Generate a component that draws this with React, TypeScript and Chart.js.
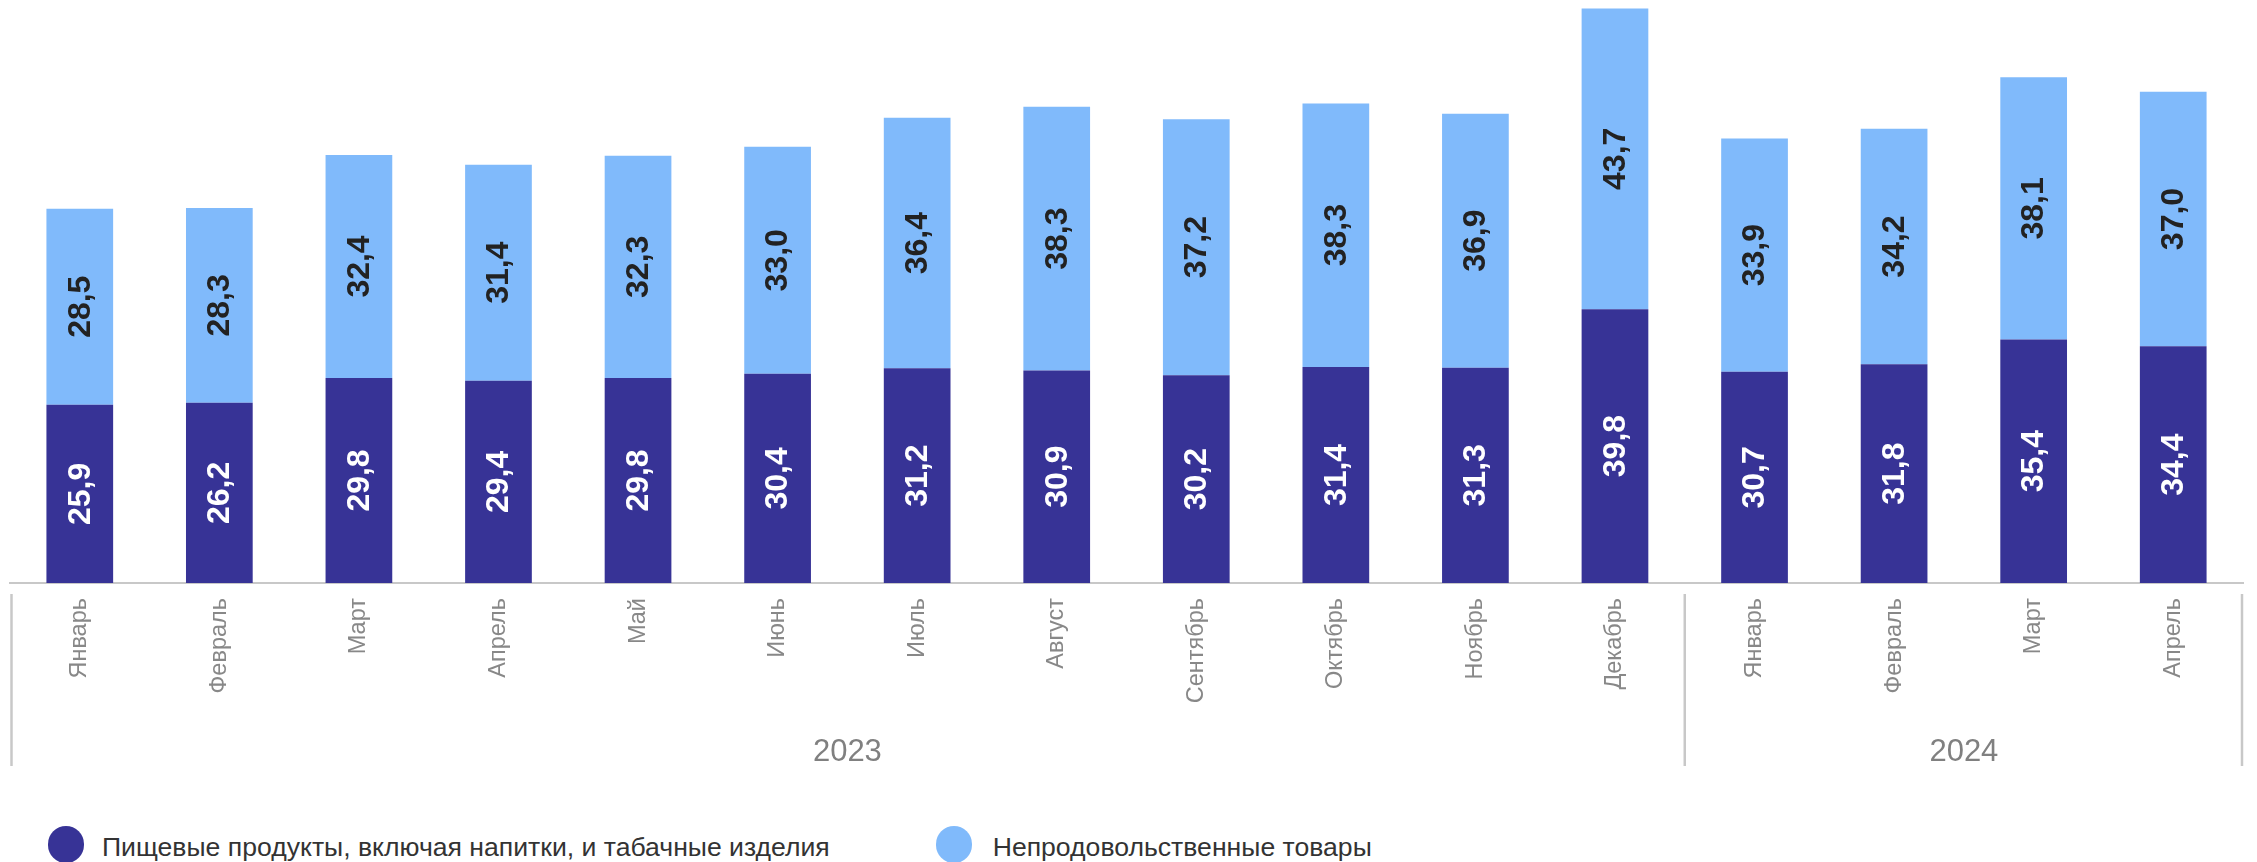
import React, { useEffect, useRef } from 'react';
import { Chart, registerables } from 'chart.js';

Chart.register(...registerables);

const months = [
  'Январь', 'Февраль', 'Март', 'Апрель', 'Май', 'Июнь', 'Июль', 'Август',
  'Сентябрь', 'Октябрь', 'Ноябрь', 'Декабрь', 'Январь', 'Февраль', 'Март', 'Апрель',
];
const years = ['2023', '2024'];
const monthsPerYear = [12, 4];
const foodValues = [25.9, 26.2, 29.8, 29.4, 29.8, 30.4, 31.2, 30.9, 30.2, 31.4, 31.3, 39.8, 30.7, 31.8, 35.4, 34.4];
const nonFoodValues = [28.5, 28.3, 32.4, 31.4, 32.3, 33.0, 36.4, 38.3, 37.2, 38.3, 36.9, 43.7, 33.9, 34.2, 38.1, 37.0];
const seriesNames = ['Пищевые продукты, включая напитки, и табачные изделия', 'Непродовольственные товары'];
const yMax = 84;

const FONT = '"Liberation Sans", Arial, Helvetica, sans-serif';
const DARK = '#373396';
const LIGHT = '#80bafb';
const GRAY_LINE = '#c8c8c8';
const TICK_GRAY = '#888888';

const fmt = (v: number) => v.toFixed(1).replace('.', ',');

const valueLabels = {
  id: 'valueLabels',
  afterDatasetsDraw(chart: any) {
    const ctx = chart.ctx;
    chart.data.datasets.forEach((ds: any, i: number) => {
      const meta = chart.getDatasetMeta(i);
      meta.data.forEach((bar: any, j: number) => {
        const v = ds.data[j];
        const p = bar.getProps(['x', 'y', 'base'], true);
        const cy = (p.y + p.base) / 2;
        ctx.save();
        ctx.translate(p.x + 1, cy);
        ctx.rotate(-Math.PI / 2);
        ctx.font = `bold 32px ${FONT}`;
        ctx.fillStyle = i === 0 ? '#ffffff' : '#222222';
        ctx.textAlign = 'center';
        ctx.textBaseline = 'middle';
        ctx.fillText(fmt(v), 0, 0);
        ctx.restore();
      });
    });
  },
};

const groupAxis = {
  id: 'groupAxis',
  afterDraw(chart: any) {
    const xs = chart.scales.x;
    const ctx = chart.ctx;
    const half = (xs.getPixelForValue(1) - xs.getPixelForValue(0)) / 2;
    const top = xs.top + 11;
    const bottom = xs.top + 183;
    let start = 0;
    ctx.save();
    ctx.strokeStyle = GRAY_LINE;
    ctx.lineWidth = 2.5;
    const drawSep = (x: number) => {
      ctx.beginPath();
      ctx.moveTo(x, top);
      ctx.lineTo(x, bottom);
      ctx.stroke();
    };
    years.forEach((yr, k) => {
      const end = start + monthsPerYear[k] - 1;
      const left = xs.getPixelForValue(start) - half;
      const right = xs.getPixelForValue(end) + half;
      if (k === 0) drawSep(left + 1.5);
      drawSep(right - (k === years.length - 1 ? 1 : 0));
      ctx.fillStyle = '#808080';
      ctx.font = `31px ${FONT}`;
      ctx.textAlign = 'center';
      ctx.textBaseline = 'middle';
      ctx.fillText(yr, (left + right) / 2, xs.top + 169);
      start = end + 1;
    });
    ctx.restore();
  },
};

export default function App() {
  const canvasRef = useRef<HTMLCanvasElement | null>(null);

  useEffect(() => {
    if (!canvasRef.current) return;
    const chart = new Chart(canvasRef.current, {
      type: 'bar',
      data: {
        labels: months,
        datasets: [
          {
            label: seriesNames[0],
            data: foodValues,
            backgroundColor: DARK,
            categoryPercentage: 1,
            barPercentage: 0.478,
          },
          {
            label: seriesNames[1],
            data: nonFoodValues,
            backgroundColor: LIGHT,
            categoryPercentage: 1,
            barPercentage: 0.478,
          },
        ],
      },
      options: {
        animation: false,
        responsive: true,
        maintainAspectRatio: false,
        layout: { padding: { left: 10, right: 14, top: 5, bottom: 0 } },
        plugins: {
          legend: { display: false },
          tooltip: { enabled: false },
        },
        scales: {
          x: {
            stacked: true,
            grid: { display: false, drawTicks: false },
            border: { display: true, color: GRAY_LINE, width: 2 },
            ticks: {
              autoSkip: false,
              minRotation: 90,
              maxRotation: 90,
              padding: 15,
              color: TICK_GRAY,
              font: { size: 23.5, family: FONT },
            },
            afterFit: (s: any) => {
              s.height = 197;
            },
          },
          y: {
            stacked: true,
            display: false,
            min: 0,
            max: yMax,
          },
        },
      },
      plugins: [valueLabels, groupAxis],
    } as any);
    return () => chart.destroy();
  }, []);

  const legendText: React.CSSProperties = {
    position: 'absolute',
    top: 833.5,
    fontFamily: FONT,
    fontSize: 26.6,
    lineHeight: '26.6px',
    color: '#333333',
    whiteSpace: 'nowrap',
  };
  const dot = (left: number, color: string): React.CSSProperties => ({
    position: 'absolute',
    left,
    top: 826,
    width: 36.7,
    height: 36.7,
    borderRadius: '50%',
    background: color,
  });

  return (
    <div style={{ position: 'fixed', left: 0, top: 0, width: 2257, height: 862, overflow: 'hidden', background: '#ffffff' }}>
      <div style={{ position: 'absolute', left: 0, top: 0, width: 2257, height: 780 }}>
        <canvas ref={canvasRef} />
      </div>
      <div style={dot(47.7, DARK)} />
      <span style={{ ...legendText, left: 102 }}>{seriesNames[0]}</span>
      <div style={dot(935.7, LIGHT)} />
      <span style={{ ...legendText, left: 992.7 }}>{seriesNames[1]}</span>
    </div>
  );
}
